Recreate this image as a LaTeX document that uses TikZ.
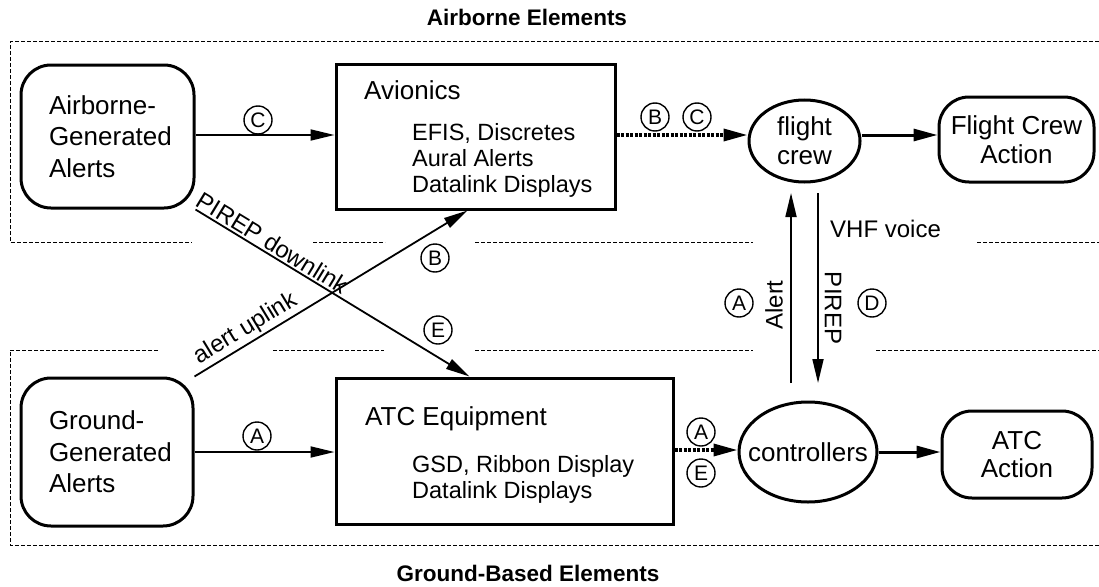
\documentclass[tikz,border=0pt]{standalone}
\usepackage{fontspec}
\setmainfont{Liberation Sans}
\usetikzlibrary{arrows.meta,shapes.geometric,calc}
\tikzset{
  big/.style={font=\fontsize{26}{31.5}\selectfont},
  sub/.style={font=\fontsize{23.5}{26}\selectfont},
  lbl/.style={font=\fontsize{24}{28}\selectfont},
  ttl/.style={font=\bfseries\fontsize{22.5}{26}\selectfont},
  txt/.style={anchor=base west,inner sep=0pt},
  circ/.style={circle,draw,line width=1.4pt,minimum size=28pt,inner sep=0pt,font=\fontsize{21}{21}\selectfont},
  rbox/.style={draw,line width=3pt,rounded corners=30pt,inner sep=0pt},
  sbox/.style={draw,line width=3pt,inner sep=0pt},
  ell/.style={ellipse,draw,line width=3pt,inner sep=0pt},
  region/.style={line width=1pt,dash pattern=on 4pt off 2pt},
  thinarrow/.style={line width=1.8pt,-{Triangle[length=24pt,width=11pt]}},
  thickarrow/.style={line width=3pt,-{Triangle[length=24pt,width=12pt]}},
  dotarrow/.style={line width=3.5pt,dash pattern=on 3pt off 1.5pt,-{Triangle[length=24pt,width=12pt]}}
}
\begin{document}
\begin{tikzpicture}[x=1pt,y=-1pt]
\useasboundingbox (0,0) rectangle (1099,586);

% titles
\node[ttl] (t1) at (527,17) {Airborne Elements};
\node[ttl] (t2) at (528,573) {Ground-Based Elements};

% region outlines
\draw[region] (1099,42) -- (10,42) -- (10,242) -- (192,242);
\draw[region] (313,242) -- (385,242);
\draw[region] (475,242) -- (753,242);
\draw[region] (977,242) -- (1099,242);
\draw[region] (158,350) -- (10,350) -- (10,545) -- (1099,545);
\draw[region] (273,350) -- (384,350);
\draw[region] (475,350) -- (753,350);
\draw[region] (876,350) -- (1099,350);

% nodes
\node[rbox,big,minimum width=173pt,minimum height=143pt,text width=117pt,inner xsep=28pt,align=left]
  (agen) at (107.5,136.5) {Airborne-\\Generated\\Alerts};
\node[rbox,big,minimum width=172pt,minimum height=148pt,text width=116pt,inner xsep=28pt,align=left]
  (ggen) at (107,452) {Ground-\\Generated\\Alerts};

\node[sbox,minimum width=279pt,minimum height=145pt] (avi) at (475.5,136.5) {};
\node[txt,big] (avit) at (364,99) {Avionics};
\node[txt,sub] (avi1) at (412,140) {EFIS, Discretes};
\node[txt,sub] (avi2) at (412,166) {Aural Alerts};
\node[txt,sub] (avi3) at (412,192) {Datalink Displays};

\node[sbox,minimum width=337pt,minimum height=146pt] (atc) at (504.5,451) {};
\node[txt,big] (atct) at (365,425) {ATC Equipment};
\node[txt,sub] (atc1) at (412,472) {GSD, Ribbon Display};
\node[txt,sub] (atc2) at (412,498) {Datalink Displays};

\node[ell,minimum width=111pt,minimum height=82pt] (fc) at (804.5,141) {};
\node[align=center,inner sep=0pt,font=\fontsize{26}{29}\selectfont] (fct) at (fc) {flight\\crew};
\node[ell,minimum width=138pt,minimum height=100pt] (ctrl) at (808,452) {};
\node[big,inner sep=0pt] (ctrlt) at (ctrl) {controllers};

\node[rbox,align=center,minimum width=155pt,minimum height=85pt,font=\fontsize{26}{29}\selectfont]
  (fca) at (1016.5,139.5) {Flight Crew\\Action};
\node[rbox,align=center,minimum width=150pt,minimum height=87pt,font=\fontsize{26}{28}\selectfont]
  (atca) at (1017,454.5) {ATC\\Action};

% connectors
\draw[thinarrow] (agen.east |- 0,135) -- (avi.west |- 0,135);
\node[circ] (cC1) at (258,120) {C};
\draw[thinarrow] (ggen.east |- 0,452) -- (atc.west |- 0,452);
\node[circ] (cA1) at (257,436) {A};

\draw[dotarrow] (avi.east |- 0,135) -- (fc.west |- 0,135);
\node[circ] (cB1) at (655,117) {B};
\node[circ] (cC2) at (697,117) {C};

\draw[dotarrow] (atc.east |- 0,450) -- (ctrl.west |- 0,450);
\node[circ] (cA2) at (701,432) {A};
\node[circ] (cE2) at (701,473) {E};

\draw[thickarrow] (fc.east |- 0,135) -- (fca.west |- 0,135);
\draw[thickarrow] (ctrl.east |- 0,452) -- (atca.west |- 0,452);

% diagonal links
\draw[thinarrow] (ggen.north east) -- node[lbl,sloped,above,pos=0.215,inner sep=2pt] (aul) {alert uplink} ([xshift=133pt]avi.south west);
\node[circ] (cB2) at (435,258) {B};
\draw[thinarrow] (agen.south east) -- node[lbl,sloped,above,pos=0.26,inner sep=2pt] (pdl) {PIREP downlink} ([xshift=135pt]atc.north west);
\node[circ] (cE1) at (438,330) {E};

% VHF voice links
\coordinate (alS) at (791,383);
\coordinate (alE) at (791,193);
\coordinate (piS) at (818,193);
\coordinate (piE) at (818,383);
\draw[thinarrow] (alS) -- (alE);
\draw[thinarrow] (piS) -- (piE);
\node[lbl,rotate=90,inner sep=0pt] (alt) at (774,305) {Alert};
\node[lbl,rotate=-90,inner sep=0pt] (pit) at (833,308) {PIREP};
\node[txt,lbl] (vhf) at (830,237) {VHF voice};
\node[circ] (cA3) at (739,303) {A};
\node[circ] (cD3) at (872,303) {D};
\end{tikzpicture}
\end{document}
